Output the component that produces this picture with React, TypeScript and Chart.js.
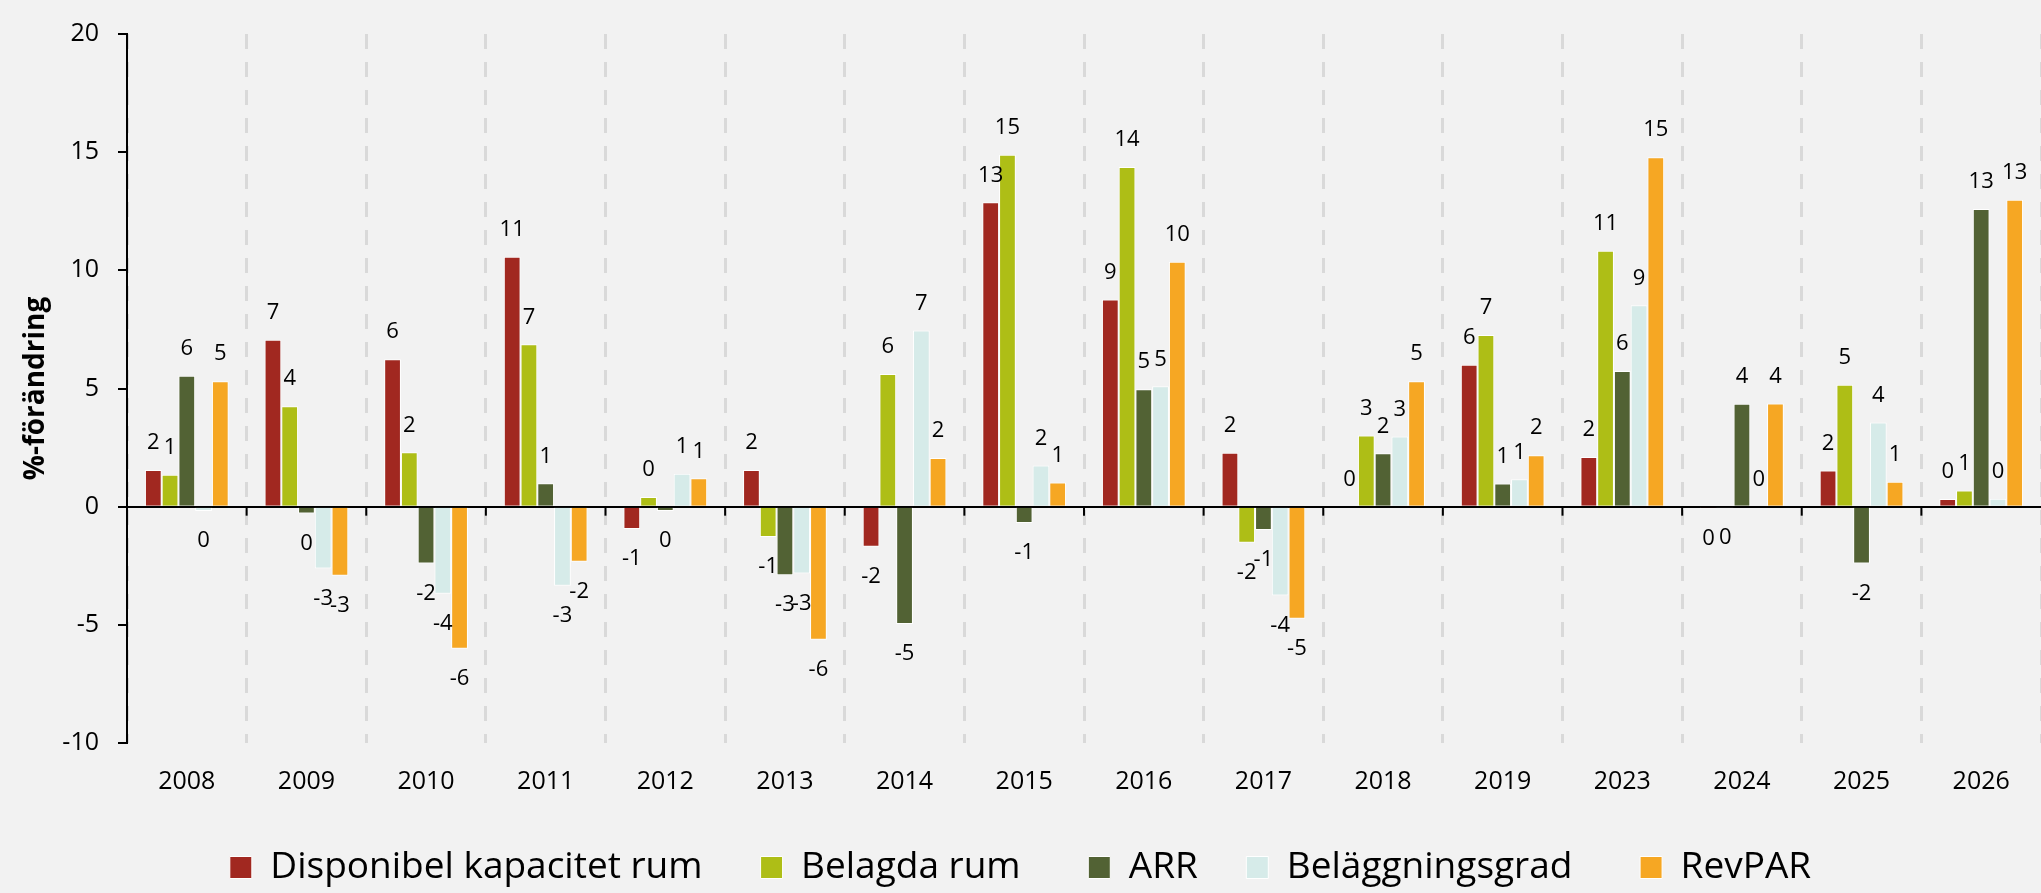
import React, { useEffect, useRef } from 'react';
import { Chart, registerables } from 'chart.js';

Chart.register(...registerables);

const FONT = '"Open Sans", "Noto Sans", sans-serif';

const categories = ['2008', '2009', '2010', '2011', '2012', '2013', '2014', '2015', '2016', '2017', '2018', '2019', '2023', '2024', '2025', '2026'];

const disponibel = [1.55, 7.06, 6.24, 10.57, -0.94, 1.55, -1.7, 12.88, 8.77, 2.28, 0, 6.01, 2.1, -0.08, 1.53, 0.32];
const belagda = [1.35, 4.25, 2.3, 6.87, 0.41, -1.28, 5.61, 14.89, 14.37, -1.53, 3.01, 7.26, 10.83, -0.04, 5.16, 0.68];
const arr = [5.54, -0.29, -2.4, 0.99, -0.18, -2.9, -4.96, -0.69, 4.97, -0.99, 2.26, 0.98, 5.74, 4.35, -2.4, 12.59];
const belaggning = [-0.18, -2.62, -3.69, -3.35, 1.39, -2.83, 7.45, 1.74, 5.09, -3.76, 2.97, 1.16, 8.52, 0, 3.56, 0.33];
const revpar = [5.31, -2.92, -6.01, -2.33, 1.2, -5.63, 2.06, 1.02, 10.36, -4.74, 5.31, 2.18, 14.79, 4.37, 1.05, 12.99];

const seriesNames = ['Disponibel kapacitet rum', 'Belagda rum', 'ARR', 'Beläggningsgrad', 'RevPAR'];
const seriesColors = ['#A12820', '#AEBE16', '#526234', '#D6EBE9', '#F6A723'];

// trailing spaces after each legend entry (reproduces the legend spacing)
const legendTrailingSpaces = [5, 6, 4, 6, 0];

const yTicks = { min: -10, max: 20, step: 5 };

const bgPlugin = {
  id: 'bg',
  beforeDraw(chart: any) {
    const ctx = chart.ctx;
    ctx.save();
    ctx.fillStyle = '#f2f2f2';
    ctx.fillRect(0, 0, chart.width, chart.height);
    ctx.restore();
  },
};

const zeroTicksPlugin = {
  id: 'zeroTicks',
  afterDraw(chart: any) {
    const x = chart.scales.x;
    const y = chart.scales.y;
    const y0 = y.getPixelForValue(0);
    const n = categories.length;
    const ctx = chart.ctx;
    ctx.save();
    ctx.strokeStyle = '#000';
    ctx.lineWidth = 2;
    for (let i = 1; i < n; i++) {
      const px = (x.getPixelForValue(i - 1) + x.getPixelForValue(i)) / 2;
      ctx.beginPath();
      ctx.moveTo(px, y0);
      ctx.lineTo(px, y0 + 9);
      ctx.stroke();
    }
    ctx.restore();
  },
};

const labelsPlugin = {
  id: 'valueLabels',
  afterDatasetsDraw(chart: any) {
    const ctx = chart.ctx;
    ctx.save();
    ctx.font = `22px ${FONT}`;
    ctx.fillStyle = '#000';
    ctx.textAlign = 'center';
    ctx.textBaseline = 'middle';
    chart.data.datasets.forEach((ds: any, di: number) => {
      const meta = chart.getDatasetMeta(di);
      meta.data.forEach((bar: any, i: number) => {
        const v = ds.data[i];
        let r = Math.round(v);
        if (Object.is(r, -0)) r = 0;
        const ty = v >= 0 ? bar.y - 27 : bar.y + 30;
        ctx.fillText(String(r), bar.x, ty);
      });
    });
    ctx.restore();
  },
};

export default function App() {
  const ref = useRef<HTMLCanvasElement>(null);
  useEffect(() => {
    document.body.style.margin = '0';
    document.body.style.background = '#f2f2f2';
    const canvas = ref.current!;
    const data = [disponibel, belagda, arr, belaggning, revpar];
    const chart = new Chart(canvas, {
      type: 'bar',
      data: {
        labels: categories,
        datasets: data.map((d, i) => ({
          label: seriesNames[i],
          data: d,
          backgroundColor: seriesColors[i],
          borderColor: '#ffffff',
          borderWidth: 1,
          categoryPercentage: 0.7,
          barPercentage: 1.0,
        })),
      },
      options: {
        responsive: false,
        animation: false,
        devicePixelRatio: 1,
        layout: { padding: { top: 18, right: 0, left: 0, bottom: 0 } },
        plugins: {
          tooltip: { enabled: false },
          legend: {
            position: 'bottom',
            maxHeight: 54,
            labels: {
              font: { family: FONT, size: 37 },
              color: '#000',
              boxWidth: 22,
              boxHeight: 22,
              padding: 10,
              generateLabels(chart: any) {
                const items = Chart.defaults.plugins.legend.labels.generateLabels(chart);
                return items.map((it: any, i: number) => ({
                  ...it,
                  text: it.text + ' '.repeat(legendTrailingSpaces[i] || 0),
                }));
              },
            },
          },
        },
        scales: {
          x: {
            afterFit(scale: any) {
              scale.height = 96;
            },
            grid: {
              offset: true,
              color: '#d9d9d9',
              lineWidth: 3,
              drawTicks: false,
            },
            border: { display: false, dash: [15, 13] },
            ticks: {
              font: { family: FONT, size: 25 },
              color: '#000',
              padding: 24,
            },
          },
          y: {
            z: 1,
            min: yTicks.min,
            max: yTicks.max,
            afterFit(scale: any) {
              scale.width = 127;
            },
            ticks: {
              stepSize: yTicks.step,
              font: { family: FONT, size: 25 },
              color: '#000',
              padding: 19,
            },
            grid: {
              color: (c: any) => (c.tick && c.tick.value === 0 ? '#000' : 'rgba(0,0,0,0)'),
              lineWidth: 2,
              tickColor: '#000',
              tickLength: 9,
              tickWidth: 2,
            },
            border: { display: true, color: '#000', width: 2 },
            title: {
              display: true,
              text: '%-förändring',
              font: { family: FONT, size: 28, weight: 'bold' },
              color: '#000',
              padding: { top: 19, bottom: 0 },
            },
          },
        },
      },
      plugins: [bgPlugin, labelsPlugin, zeroTicksPlugin],
    } as any);
    return () => chart.destroy();
  }, []);
  return (
    <div style={{ width: 2041, height: 893 }}>
      <canvas ref={ref} width={2041} height={893} style={{ display: 'block' }} />
    </div>
  );
}
